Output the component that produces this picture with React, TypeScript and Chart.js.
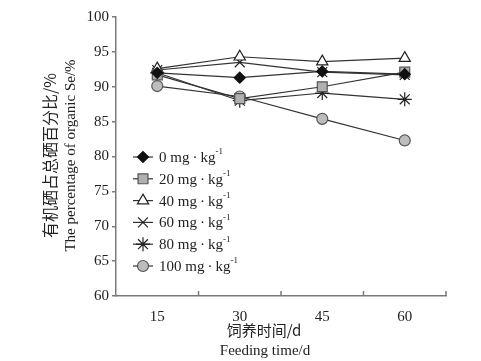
import React, { useEffect, useRef } from "react";
import { Chart, registerables } from "chart.js";
import { drawPoint } from "chart.js/helpers";

Chart.register(...registerables);

const feedingDays = ["15", "30", "45", "60"];
const se0 = [92.0, 91.3, 92.2, 91.8];
const se20 = [91.7, 88.3, 90.0, 92.1];
const se40 = [92.6, 94.3, 93.6, 94.1];
const se60 = [92.4, 93.5, 92.1, 91.7];
const se80 = [92.0, 88.0, 89.1, 88.2];
const se100 = [90.1, 88.6, 85.4, 82.3];
const doseLabels = ["0", "20", "40", "60", "80", "100"];
const yTitleCn = "有机硒占总硒百分比/%";
const yTitleEn = "The percentage of organic Se/%";
const xTitleCn = "饲养时间/d";
const xTitleEn = "Feeding time/d";

const SERIF = "'Liberation Serif', 'DejaVu Serif', serif";
const CJK = "'Noto Sans CJK SC', sans-serif";
const LINE = "#333333";
const AXIS = "#7a7a7a";

const styles = [
  { pointStyle: "rectRot", bg: "#111111", border: "#111111", radius: 5.5 },
  { pointStyle: "rect", bg: "#b0b0b0", border: "#555555", radius: 7 },
  { pointStyle: "triangle", bg: "#ffffff", border: "#222222", radius: 6.5 },
  { pointStyle: "crossRot", bg: "#222222", border: "#222222", radius: 7 },
  { pointStyle: "star", bg: "#222222", border: "#222222", radius: 7 },
  { pointStyle: "circle", bg: "#bdbdbd", border: "#555555", radius: 5.5 },
];
const seriesValues = [se0, se20, se40, se60, se80, se100];

const decorPlugin = {
  id: "decor",
  afterDraw(chart: any) {
    const ctx = chart.ctx;
    const xs = chart.scales.x;
    const area = chart.chartArea;
    ctx.save();
    // inward x ticks at category boundaries
    const n = feedingDays.length;
    const step = xs.getPixelForValue(1) - xs.getPixelForValue(0);
    ctx.strokeStyle = AXIS;
    ctx.lineWidth = 1.5;
    for (let i = 0; i < n; i++) {
      const x = xs.getPixelForValue(i) + step / 2;
      ctx.beginPath();
      ctx.moveTo(x, area.bottom);
      ctx.lineTo(x, area.bottom - 5);
      ctx.stroke();
    }
    // legend
    const lx = area.left + 27;
    let ly = 157;
    for (let i = 0; i < styles.length; i++) {
      const s = styles[i];
      ctx.strokeStyle = LINE;
      ctx.lineWidth = 1.2;
      ctx.beginPath();
      ctx.moveTo(lx - 10, ly);
      ctx.lineTo(lx + 10, ly);
      ctx.stroke();
      ctx.fillStyle = s.bg;
      ctx.strokeStyle = s.border;
      ctx.lineWidth = 1.2;
      drawPoint(ctx, { pointStyle: s.pointStyle, radius: s.radius, rotation: 0, borderWidth: 1.2 }, lx, ly);
      ctx.fillStyle = "#222";
      ctx.font = `15px ${SERIF}`;
      ctx.textAlign = "left";
      ctx.textBaseline = "middle";
      const main = `${doseLabels[i]} mg\u2009·\u2009kg`;
      ctx.fillText(main, lx + 16, ly + 1);
      const w = ctx.measureText(main).width;
      ctx.font = `9px ${SERIF}`;
      ctx.fillText("-1", lx + 16 + w, ly - 5);
      ly += 21.8;
    }
    // titles
    ctx.fillStyle = "#222";
    ctx.textAlign = "center";
    ctx.textBaseline = "middle";
    const cy = (area.top + area.bottom) / 2 - 1;
    ctx.save();
    ctx.translate(50, cy);
    ctx.rotate(-Math.PI / 2);
    ctx.font = `16px ${CJK}`;
    ctx.fillText(yTitleCn, 0, 0);
    ctx.restore();
    ctx.save();
    ctx.translate(71, cy);
    ctx.rotate(-Math.PI / 2);
    ctx.font = `15px ${SERIF}`;
    ctx.fillText(yTitleEn, 0, 0);
    ctx.restore();
    ctx.font = `15px ${CJK}`;
    ctx.fillText(xTitleCn, 264, 330);
    ctx.font = `15px ${SERIF}`;
    ctx.fillText(xTitleEn, 265, 351);
    ctx.restore();
  },
};

export default function App() {
  const ref = useRef<HTMLCanvasElement>(null);
  useEffect(() => {
    document.body.style.margin = "0";
    const chart = new Chart(ref.current as HTMLCanvasElement, {
      type: "line",
      data: {
        labels: feedingDays,
        datasets: seriesValues.map((vals, i) => ({
          label: `${doseLabels[i]} mg·kg-1`,
          data: vals,
          borderColor: LINE,
          borderWidth: 1.2,
          pointStyle: styles[i].pointStyle as any,
          pointRadius: styles[i].radius,
          pointBackgroundColor: styles[i].bg,
          pointBorderColor: styles[i].border,
          pointBorderWidth: 1.2,
          tension: 0,
          fill: false,
        })),
      },
      options: {
        animation: false,
        responsive: false,
        devicePixelRatio: 1,
        layout: { padding: { top: 17, right: 35, left: 0, bottom: 0 } },
        plugins: { legend: { display: false }, tooltip: { enabled: false } },
        scales: {
          x: {
            type: "category",
            offset: true,
            grid: { display: false },
            border: { display: true, color: AXIS, width: 1.5 },
            ticks: { color: "#222", font: { family: SERIF, size: 15 }, padding: 4 },
            afterFit: (s: any) => {
              s.height = 65;
            },
          },
          y: {
            min: 60,
            max: 100,
            ticks: { stepSize: 5, color: "#222", font: { family: SERIF, size: 15 }, padding: 3 },
            grid: { drawOnChartArea: false, drawTicks: true, tickLength: 4, color: AXIS, lineWidth: 1.5 },
            border: { display: true, color: AXIS, width: 1.5 },
            afterFit: (s: any) => {
              s.width = 116;
            },
          },
        },
      },
      plugins: [decorPlugin],
    });
    return () => chart.destroy();
  }, []);
  return (
    <div style={{ position: "fixed", left: 0, top: 0, width: 481, height: 361, background: "#fff" }}>
      <canvas ref={ref} width={481} height={361} style={{ width: 481, height: 361 }} />
    </div>
  );
}
